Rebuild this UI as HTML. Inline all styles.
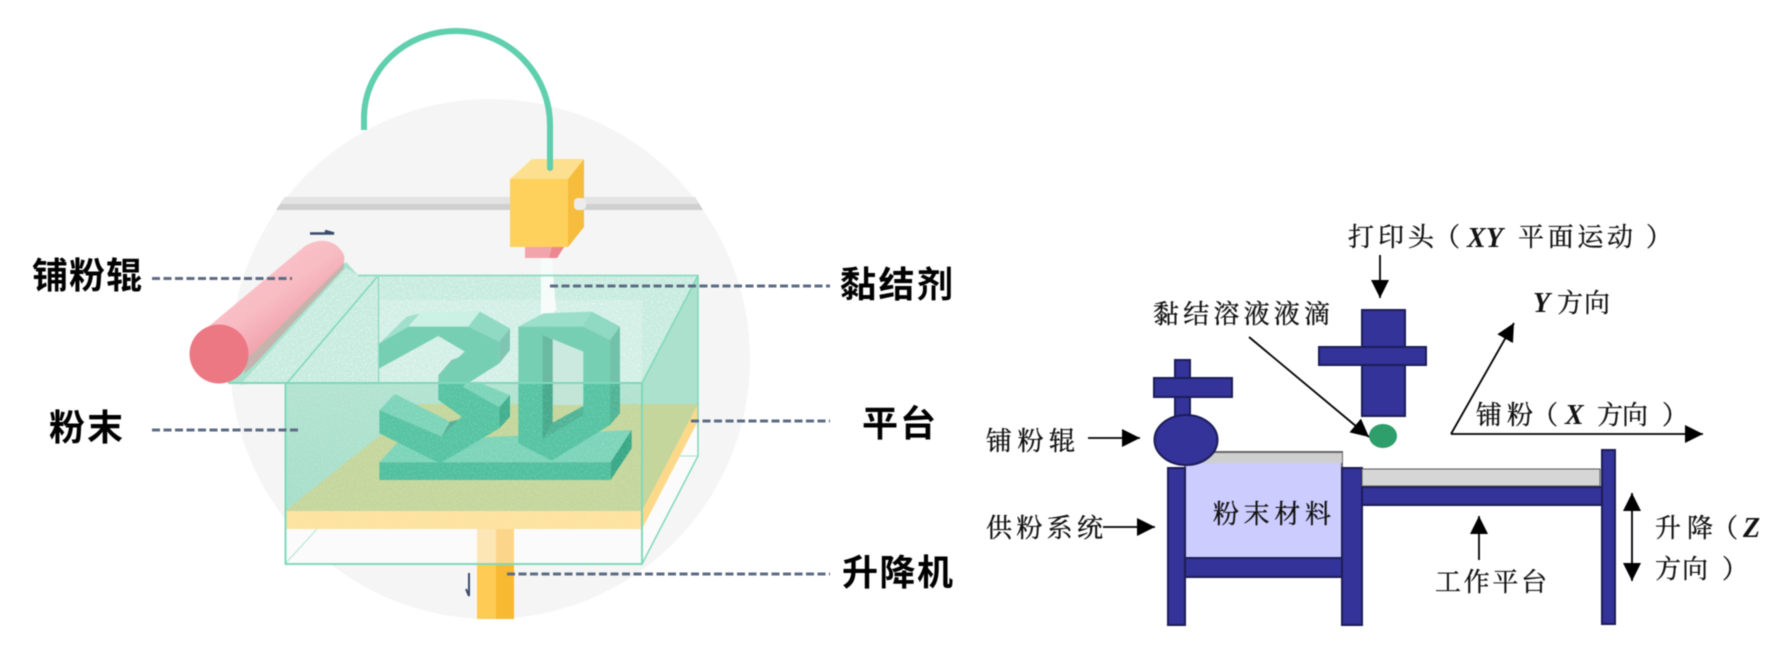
<!DOCTYPE html>
<html lang="zh"><head><meta charset="utf-8"><title>3D打印原理</title>
<style>html,body{margin:0;padding:0;background:#fff}svg{display:block;filter:blur(.45px)}
.b{font-family:"Liberation Sans","Noto Sans CJK SC",sans-serif;font-weight:700;font-size:36px;fill:#000}
.s{font-family:"Liberation Serif","Noto Serif CJK SC",serif;font-size:26px;fill:#111;stroke:#111;stroke-width:.35px}
.i{font-family:"Liberation Serif",serif;font-style:italic;font-weight:700;font-size:28px;fill:#111}
</style></head><body>
<svg width="1792" height="648" viewBox="0 0 1792 648" xmlns="http://www.w3.org/2000/svg">
<defs>
<linearGradient id="rol" x1="0.2" y1="0.1" x2="0.75" y2="0.75"><stop offset="0" stop-color="#fbc6cc"/><stop offset=".55" stop-color="#f8bcc3"/><stop offset="1" stop-color="#ee9aa4"/></linearGradient>
<linearGradient id="pow" x1="0" y1="0" x2="0" y2="1"><stop offset="0" stop-color="#b2e3d1"/><stop offset="1" stop-color="#a6dec9"/></linearGradient>
<filter id="n" x="0" y="0" width="100%" height="100%"><feTurbulence type="fractalNoise" baseFrequency=".55" numOctaves="2" seed="3"/><feColorMatrix values="0 0 0 0 1 0 0 0 0 1 0 0 0 0 1 0 0 0 2.4 -1.05"/></filter>
<clipPath id="topc"><polygon points="240,385 346,268 358,275 698,275 642,383"/></clipPath>
<clipPath id="frontc"><polygon points="285,383 642,383 642,529 285,529"/></clipPath>
<marker id="a" viewBox="0 0 10 10" refX="10" refY="5" markerWidth="18" markerHeight="18" markerUnits="userSpaceOnUse" orient="auto"><path d="M0 0L10 5L0 10Z" fill="#000"/></marker>
<marker id="as" viewBox="0 0 10 10" refX="0" refY="5" markerWidth="18" markerHeight="18" markerUnits="userSpaceOnUse" orient="auto"><path d="M10 0L0 5L10 10Z" fill="#000"/></marker>
</defs>
<rect width="1792" height="648" fill="#fff"/>

<!-- left illustration -->
<circle cx="490" cy="359" r="260" fill="#f5f5f5"/>
<polygon points="285,197 695,197 703,210 276,210" fill="#cfcfcf"/>
<polygon points="285,197 695,197 699,204 281,204" fill="#e3e3e3"/>
<polygon points="510,179 532,159 584,159 568,179" fill="#fde08f"/>
<rect x="510" y="179" width="58" height="68" fill="#fed05c"/>
<polygon points="568,179 584,159 584,227 568,247" fill="#f6bc3c"/>
<rect x="574" y="198" width="12" height="12" rx="4" fill="#ececec"/>
<polygon points="525,247 564,247 557,258 525,258" fill="#f2a4ac"/>
<polygon points="552,247 564,247 557,258 549,258" fill="#ec8890"/>
<path d="M364 130L364 118C364 70 405 31 456 31C510 31 550 75 550 125L550 168" fill="none" stroke="#5fcfae" stroke-width="6"/>
<circle cx="550" cy="168" r="3" fill="#5fcfae"/>

<!-- powder -->
<polygon points="285,383 642,383 642,511 285,511" fill="url(#pow)"/>
<polygon points="642,383 698,275 698,405 642,511" fill="#abe1cd"/>
<polygon points="228,383 346,262 358,275 698,275 642,383" fill="#a8e2ce"/>
<polygon points="240,385 346,268 358,275 698,275 642,383 258,383" fill="#c6ebde"/>
<rect x="228" y="262" width="472" height="122" filter="url(#n)" clip-path="url(#topc)" opacity=".55"/>
<polygon points="541,258 552,258 556,310 541,325" fill="#f6fcfa"/>

<!-- bottom bay -->
<polygon points="285,529 642,529 642,564 285,564" fill="#fbfbfb"/>
<polygon points="642,524 698,421 698,456 642,564" fill="#fbfbfb"/>

<!-- platform -->
<polygon points="285,511 419,404 698,404 642,511" fill="#c4d69c"/>
<rect x="285" y="511" width="357" height="18" fill="#fde29f"/>
<polygon points="642,511 698,404 698,421 642,529" fill="#fcd988"/>

<!-- column -->
<rect x="477" y="529" width="19" height="35" fill="#fde6b6"/><rect x="496" y="529" width="18" height="35" fill="#fbd58a"/>
<rect x="477" y="564" width="19" height="55" fill="#fecb55"/><rect x="496" y="564" width="18" height="55" fill="#f7b932"/>

<!-- 3D lettering, 3x coordinates -->
<g transform="translate(370 300) scale(.3333)">
<polygon points="28,487 85,425 785,390 722,487" fill="#7bd4b8"/>
<rect x="28" y="487" width="694" height="53" fill="#4fbf9d"/>
<polygon points="722,487 785,390 785,445 722,540" fill="#36a886"/>
<!-- 3 -->
<polygon points="28,130 115,80 150,40 110,50" fill="#8ad9c0"/>
<polygon points="125,80 155,38 330,35 295,80" fill="#bdeedd"/>
<polygon points="295,80 330,35 420,85 388,125" fill="#75d0b3"/>
<polygon points="388,125 420,85 420,150 388,190" fill="#5fb89e"/>
<polygon points="278,260 320,245 420,285 388,322" fill="#7bd4b8"/>
<polygon points="28,330 75,282 240,365 215,410" fill="#7bd4b8"/>
<polygon points="388,322 420,285 420,350 388,385" fill="#3fae8d"/>
<polygon points="215,410 240,365 305,350 275,350" fill="#52ad92"/>
<polygon points="205,225 245,180 310,155 285,155" fill="#5fb89e"/>
<polygon points="28,130 115,80 295,80 388,125 388,190 278,260 388,322 388,385 210,490 28,400 28,330 215,410 275,350 205,300 205,225 285,155 205,108 28,205" fill="#55c3a1"/>
<!-- D -->
<polygon points="445,80 520,40 665,35 750,80 720,120 640,80" fill="#82d6bc"/>
<polygon points="640,80 665,35 750,80 720,120" fill="#75d0b3"/>
<polygon points="720,120 750,80 750,340 720,375" fill="#4fb395"/>
<polygon points="445,80 640,80 720,120 720,375 545,482 445,430" fill="#55c3a1"/>
<polygon points="518,105 640,155 640,320 548,368 548,118" fill="#bfe4d6"/>
<polygon points="548,315 640,315 640,320 548,368" fill="#c4d69c"/>
<polygon points="518,105 548,118 548,368 518,418" fill="#44a98a"/>
<polygon points="548,368 640,318 640,345 518,418" fill="#4fb395"/>
</g>
<polygon points="380,300 642,300 642,383 380,383" fill="#fff" opacity=".2"/>
<rect x="285" y="383" width="357" height="146" filter="url(#n)" clip-path="url(#frontc)" opacity=".18"/>

<!-- box lines -->
<g fill="none" stroke="#7fd8bb">
<path d="M378.500 276L378.500 383" stroke-width="1"/>
<path d="M287 383L377 277" stroke-width="1.500"/>
<path d="M285 564L317 529" stroke-width="1" opacity=".6"/>
<path d="M680 456L698 456" stroke-width="1" opacity=".7"/>
<path d="M358 275.500L698 275.500L698 456L642 564M642 383L698 275.500" stroke-width="1.500"/>
<path d="M228 383L642 383" stroke-width="2"/>
<rect x="285.500" y="383" width="356.500" height="181" stroke-width="2"/>
</g>

<!-- roller -->
<polygon points="248,355 337,268 344,261 344,268 255,364 244,374" fill="#c4b4ad"/>
<path d="M208 327L305 246Q322 236 336 245Q349 256 342 265L248 358Z" fill="url(#rol)"/>
<circle cx="219" cy="354" r="29.500" fill="#ec7883"/>

<!-- small marks -->
<path d="M310 233.500H334L325 231" fill="none" stroke="#3a4a6a" stroke-width="2.500"/>
<path d="M469 573V596L466 589" fill="none" stroke="#3a4a6a" stroke-width="2"/>

<!-- leaders -->
<g stroke="#5c6c85" stroke-width="3" stroke-dasharray="8 3.500" fill="none">
<path d="M152 278.500H292"/><path d="M152 430H301"/>
<path d="M550 286H830"/><path d="M691 421H830"/><path d="M507 574H830"/>
</g>
<text class="b" x="32" y="288" textLength="110">铺粉辊</text>
<text class="b" x="49" y="440" textLength="74">粉末</text>
<text class="b" x="840" y="297" textLength="113">黏结剂</text>
<text class="b" x="862" y="436" textLength="74">平台</text>
<text class="b" x="842" y="585" textLength="111">升降机</text>

<!-- right schematic -->
<g stroke="#1c1c58" stroke-width="2">
<rect x="1362" y="310" width="43" height="106" fill="#33339a"/>
<rect x="1319" y="347" width="107" height="18" fill="#33339a"/>
<rect x="1175" y="360" width="15" height="60" fill="#33339a"/>
<rect x="1154" y="378" width="78" height="19" fill="#33339a"/>
<rect x="1185" y="452" width="157" height="106" fill="#ccccff" stroke="#666"/>
</g>
<path d="M1186 458L1342 458" stroke="#cfcfcf" stroke-width="10"/>
<g stroke="#1c1c58" stroke-width="2" fill="#33339a">
<ellipse cx="1186" cy="440" rx="31.500" ry="25"/>
<rect x="1168" y="468" width="17" height="157"/>
<rect x="1342" y="468" width="20" height="157"/>
<rect x="1185" y="558" width="157" height="19"/>
<rect x="1362" y="487" width="240" height="18"/>
<rect x="1602" y="450" width="13" height="174"/>
</g>
<rect x="1362" y="469" width="238" height="17" fill="#d6d6d6" stroke="#555" stroke-width="1"/>
<ellipse cx="1383" cy="436" rx="14" ry="12" fill="#2e9e6a"/>

<!-- arrows -->
<g stroke="#000" stroke-width="1.800" fill="none" marker-end="url(#a)">
<path d="M1380 255V298"/>
<path d="M1249 337L1369 437"/>
<path d="M1088 438H1140"/>
<path d="M1103 527H1155"/>
<path d="M1451 434H1703"/>
<path d="M1451 434L1514 323"/>
<path d="M1479 560V516"/>
<path d="M1632 493V581" marker-start="url(#as)"/>
</g>

<!-- serif labels -->
<text class="s" x="1348" y="246" textLength="86">打印头</text>
<text class="s" x="1434" y="246">（</text>
<text class="i" x="1467" y="247" textLength="36">XY</text>
<text class="s" x="1518" y="246" textLength="115">平面运动</text>
<text class="s" x="1646" y="246">）</text>
<text class="s" x="1153" y="323" textLength="177">黏结溶液液滴</text>
<text class="i" x="1533" y="312">Y</text>
<text class="s" x="1557" y="312" textLength="53">方向</text>
<text class="s" x="1476" y="424" textLength="57">铺粉</text>
<text class="s" x="1532" y="424">（</text>
<text class="i" x="1565" y="424">X</text>
<text class="s" x="1597" y="424" textLength="51">方向</text>
<text class="s" x="1662" y="424">）</text>
<text class="s" x="986" y="450" textLength="89">铺粉辊</text>
<text class="s" x="986" y="537" textLength="117">供粉系统</text>
<text class="s" x="1213" y="523" textLength="118">粉末材料</text>
<text class="s" x="1435" y="591" textLength="112">工作平台</text>
<text class="s" x="1655" y="537" textLength="58">升降</text>
<text class="s" x="1712" y="537">（</text>
<text class="i" x="1743" y="537">Z</text>
<text class="s" x="1655" y="578" textLength="53">方向</text>
<text class="s" x="1722" y="578">）</text>
</svg>
</body></html>
